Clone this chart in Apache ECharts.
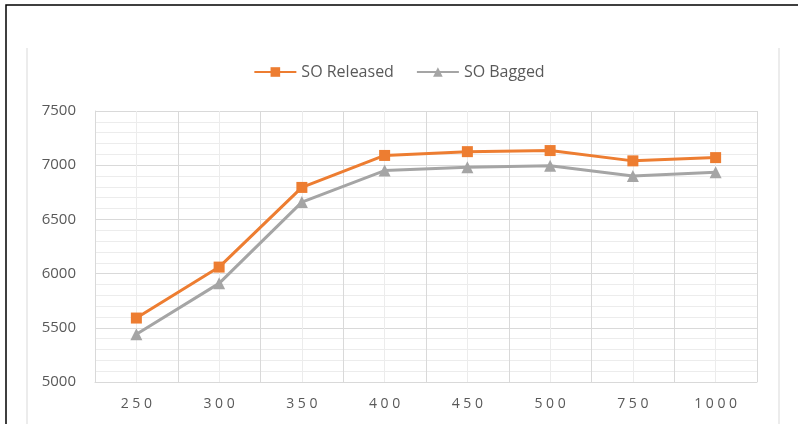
<!DOCTYPE html>
<html>
<head>
<meta charset="utf-8">
<script src="https://cdn.jsdelivr.net/npm/echarts@6/dist/echarts.min.js"></script>
<style>
  html, body { margin: 0; padding: 0; background: #fff; }
  #chart { width: 798px; height: 424px; }
</style>
</head>
<body>
<div id="chart"></div>
<script>
// 类目
const categories = ["250", "300", "350", "400", "450", "500", "750", "1000"];
// 系列数据
const soReleased = [5590, 6060, 6795, 7090, 7125, 7135, 7040, 7070];
const soBagged = [5440, 5910, 6660, 6950, 6980, 6995, 6900, 6935];

const chart = echarts.init(document.getElementById("chart"));
const textColor = "#595959";
const font = "'Open Sans', 'Liberation Sans', sans-serif";

const option = {
  animation: false,
  backgroundColor: "#fff",
  // 外框
  graphic: [
    {
      type: "rect",
      shape: { x: 6, y: 5, width: 810, height: 440 },
      style: { fill: "none", stroke: "#000", lineWidth: 1.5 },
      silent: true,
    },
    {
      type: "line",
      shape: { x1: 27, y1: 48, x2: 27, y2: 430 },
      style: { stroke: "#d9d9d9", lineWidth: 1 },
      silent: true,
    },
    {
      type: "line",
      shape: { x1: 779, y1: 48, x2: 779, y2: 430 },
      style: { stroke: "#d9d9d9", lineWidth: 1 },
      silent: true,
    },
  ],
  legend: {
    top: 59,
    left: "center",
    itemWidth: 42,
    itemHeight: 12,
    itemGap: 22,
    textStyle: { color: textColor, fontSize: 16, fontFamily: font },
    data: ["SO Released", "SO Bagged"],
  },
  grid: { left: 95, right: 41, top: 111, bottom: 42 },
  xAxis: [
    {
      type: "category",
      data: categories,
      boundaryGap: true,
      axisLine: { lineStyle: { color: "#d9d9d9" } },
      axisTick: { show: false },
      splitLine: { show: true, lineStyle: { color: "#d9d9d9" } },
      axisLabel: {
        color: textColor,
        fontSize: 14,
        fontFamily: font,
        margin: 15,
        formatter: (v) => v.split("").join(" "),
      },
    },
    {
      // 次网格线
      type: "value",
      min: 0,
      max: 8,
      interval: 1,
      show: true,
      position: "bottom",
      axisLine: { show: false },
      axisTick: { show: false },
      axisLabel: { show: false },
      splitLine: { show: false },
      minorTick: { show: false, splitNumber: 2 },
      minorSplitLine: { show: true, lineStyle: { color: "#ececec" } },
    },
  ],
  yAxis: {
    type: "value",
    min: 5000,
    max: 7500,
    interval: 500,
    axisLine: { show: true, lineStyle: { color: "#d9d9d9" } },
    axisTick: { show: false },
    axisLabel: {
      color: textColor,
      fontSize: 15,
      fontFamily: font,
      margin: 19,
      formatter: (v) => String(v),
    },
    splitLine: { lineStyle: { color: "#d9d9d9" } },
    minorTick: { show: false, splitNumber: 5 },
    minorSplitLine: { show: true, lineStyle: { color: "#ececec" } },
  },
  series: [
    {
      name: "SO Released",
      type: "line",
      data: soReleased,
      symbol: "rect",
      symbolSize: 11,
      lineStyle: { color: "#ED7D31", width: 3 },
      itemStyle: { color: "#ED7D31" },
      z: 3,
    },
    {
      name: "SO Bagged",
      type: "line",
      data: soBagged,
      symbol: "triangle",
      symbolSize: 12,
      lineStyle: { color: "#A5A5A5", width: 3 },
      itemStyle: { color: "#A5A5A5" },
      z: 2,
    },
  ],
};
chart.setOption(option);
</script>
</body>
</html>
